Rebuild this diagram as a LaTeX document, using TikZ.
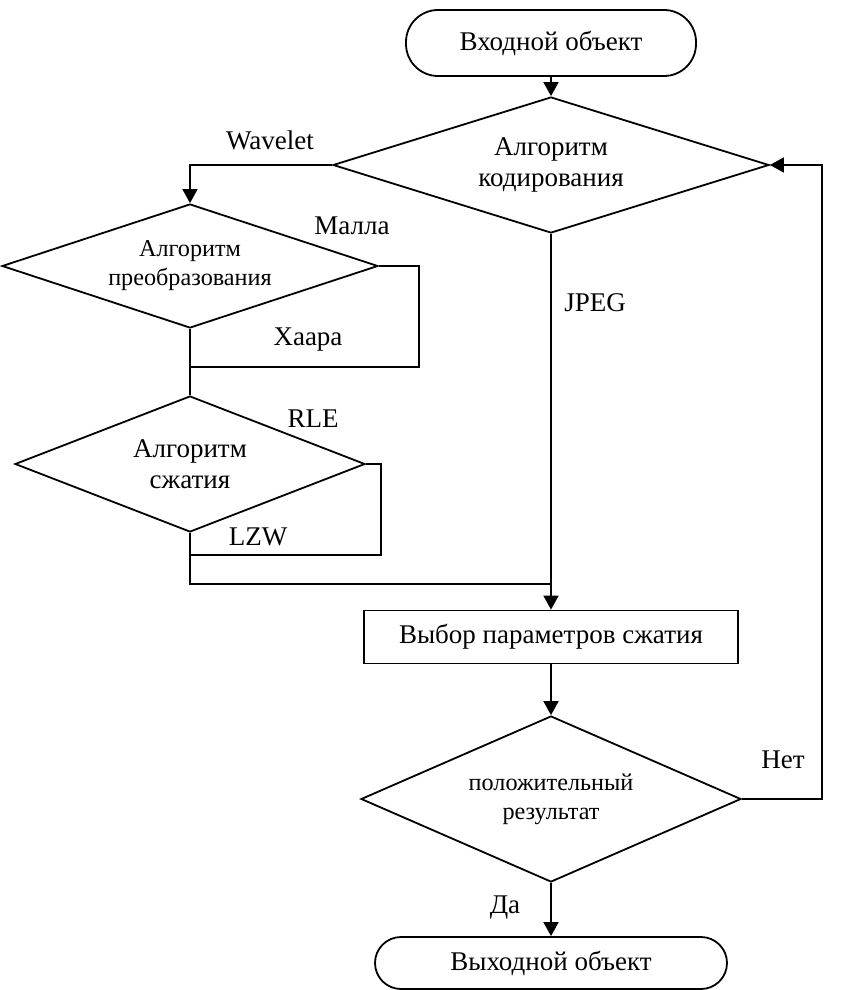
\documentclass[tikz,border=0pt]{standalone}
\usepackage{fontspec}
\setmainfont{Liberation Serif}
\usetikzlibrary{shapes.geometric, arrows.meta}

\tikzset{
  terminal/.style={draw, line width=0.9pt, rounded corners=13pt, align=center},
  decision/.style={draw, diamond, aspect=3.5, line width=0.9pt, inner sep=0pt, align=center},
  process/.style={draw, rectangle, line width=0.9pt, align=center},
  flow/.style={line width=0.9pt, -{Triangle[length=7pt, width=7.5pt]}},
  link/.style={line width=0.9pt},
  small/.style={font=\fontsize{12.1}{14.5}\selectfont}
}

\begin{document}
\begin{tikzpicture}[x=0.5pt, y=-0.5pt, font=\fontsize{13.5}{15.5}\selectfont]
  \useasboundingbox (0,0) rectangle (845,990);
  % blocks
  \node[terminal, minimum width=145pt, minimum height=33pt, rounded corners=16pt] (in) at (551,43) {Входной объект};
  \node[decision, minimum width=218pt, minimum height=68pt] (alg) at (551,165) {Алгоритм\\кодирования};
  \node[decision, small, minimum width=188pt, minimum height=62pt] (pre) at (190,266) {Алгоритм\\преобразования};
  \node[decision, minimum width=175pt, minimum height=68pt] (comp) at (190,464) {Алгоритм\\сжатия};
  \node[process, minimum width=187pt, minimum height=26.5pt] (par) at (551,637) {Выбор параметров сжатия};
  \node[decision, small, minimum width=190pt, minimum height=83pt] (res) at (551,799) {положительный\\результат};
  \node[terminal, minimum width=176pt, minimum height=26pt] (out) at (551,963) {Выходной объект};
  % helper points
  \coordinate (m1) at (419,367); \coordinate (j1) at (190,367);
  \coordinate (r1) at (381,555); \coordinate (j2) at (190,555);
  \coordinate (j4) at (551,584);
  \coordinate (fb) at (822,165);
  % connectors
  \draw[flow] (in) -- (alg);
  \draw[flow] (alg.west) -| (pre.north);
  \draw[link] (pre.east) -| (m1) -- (j1);
  \draw[link] (pre.south) -- (comp.north);
  \draw[link] (comp.east) -| (r1) -- (j2);
  \draw[link] (comp.south) |- (j4);
  \draw[flow] (alg.south) -- (par.north);
  \draw[flow] (par) -- (res);
  \draw[flow] (res.south) -- (out.north);
  \draw[flow] (res.east) -| (fb) -- (alg.east);
  % labels
  \node at (270,140) {Wavelet};
  \node at (352,226) {Малла};
  \node at (308,340) {Хаара};
  \node at (313,419) {RLE};
  \node at (258,537) {LZW};
  \node at (595,303) {JPEG};
  \node at (783,760) {Нет};
  \node at (505,908) {Да};
\end{tikzpicture}
\end{document}
